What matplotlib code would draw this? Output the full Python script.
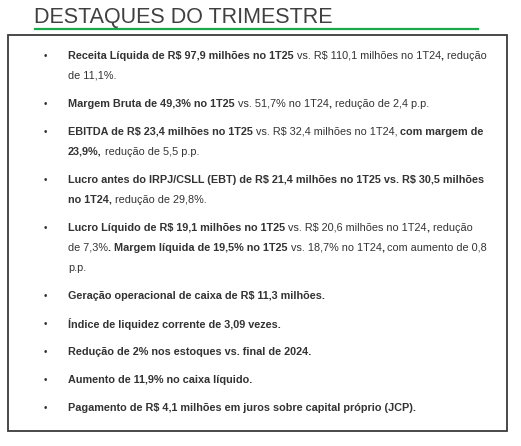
import matplotlib.pyplot as plt
from matplotlib.patches import Rectangle

TITLE = "DESTAQUES DO TRIMESTRE"

# each bullet: list of visual lines, each line a list of (text, bold)
BULLETS = [
    [[("Receita Líquida de R$ 97,9 milhões no 1T25", True), (" vs. R$ 110,1 milhões no 1T24", False), (",", True), (" redução", False)],
     [("de 11,1%.", False)]],
    [[("Margem Bruta de 49,3% no 1T25", True), (" vs. 51,7% no 1T24", False), (",", True), (" redução de 2,4 p.p.", False)]],
    [[("EBITDA de R$ 23,4 milhões no 1T25", True), (" vs. R$ 32,4 milhões no 1T24, ", False), ("com margem de", True)],
     [("23,9%,", True), (" redução de 5,5 p.p.", False)]],
    [[("Lucro antes do IRPJ/CSLL (EBT) de R$ 21,4 milhões no 1T25 vs. R$ 30,5 milhões", True)],
     [("no 1T24,", True), (" redução de 29,8%.", False)]],
    [[("Lucro Líquido de R$ 19,1 milhões no 1T25", True), (" vs. R$ 20,6 milhões no 1T24", False), (",", True), (" redução", False)],
     [("de 7,3%", False), (". Margem líquida de 19,5% no 1T25", True), (" vs. 18,7% no 1T24", False), (",", True), (" com aumento de 0,8", False)],
     [("p.p.", False)]],
    [[("Geração operacional de caixa de R$ 11,3 milhões.", True)]],
    [[("Índice de liquidez corrente de 3,09 vezes.", True)]],
    [[("Redução de 2% nos estoques vs. final de 2024.", True)]],
    [[("Aumento de 11,9% no caixa líquido.", True)]],
    [[("Pagamento de R$ 4,1 milhões em juros sobre capital próprio (JCP).", True)]],
]

W, H = 521, 446
plt.rcParams["font.family"] = ["Liberation Sans", "DejaVu Sans"]
fig = plt.figure(figsize=(W / 100, H / 100), dpi=100)
ax = fig.add_axes([0, 0, 1, 1])
ax.set_xlim(0, W)
ax.set_ylim(H, 0)
ax.axis("off")

ax.text(34, 17, TITLE, fontsize=15.5, color="#404040", va="center", ha="left")
ax.plot([35, 478], [29, 29], color="#1aa84a", lw=1.6)
ax.add_patch(Rectangle((8, 35), 499, 396, fill=False, edgecolor="#3a3a3a", lw=1.3))

renderer = fig.canvas.get_renderer()
inv = ax.transData.inverted()
y = 56
for bullet in BULLETS:
    ax.text(45, y, "•", fontsize=7, color="#333333", va="center", ha="center")
    for line in bullet:
        x = 68
        for seg, bold in line:
            t = ax.text(x, y, seg, fontsize=7.8, color="#333333", va="center", ha="left",
                        fontweight="bold" if bold else "normal", parse_math=False)
            bb = t.get_window_extent(renderer)
            x = inv.transform((bb.x1, bb.y0))[0]
        y += 20
    y += 8

fig.savefig("out.png", dpi=100)
